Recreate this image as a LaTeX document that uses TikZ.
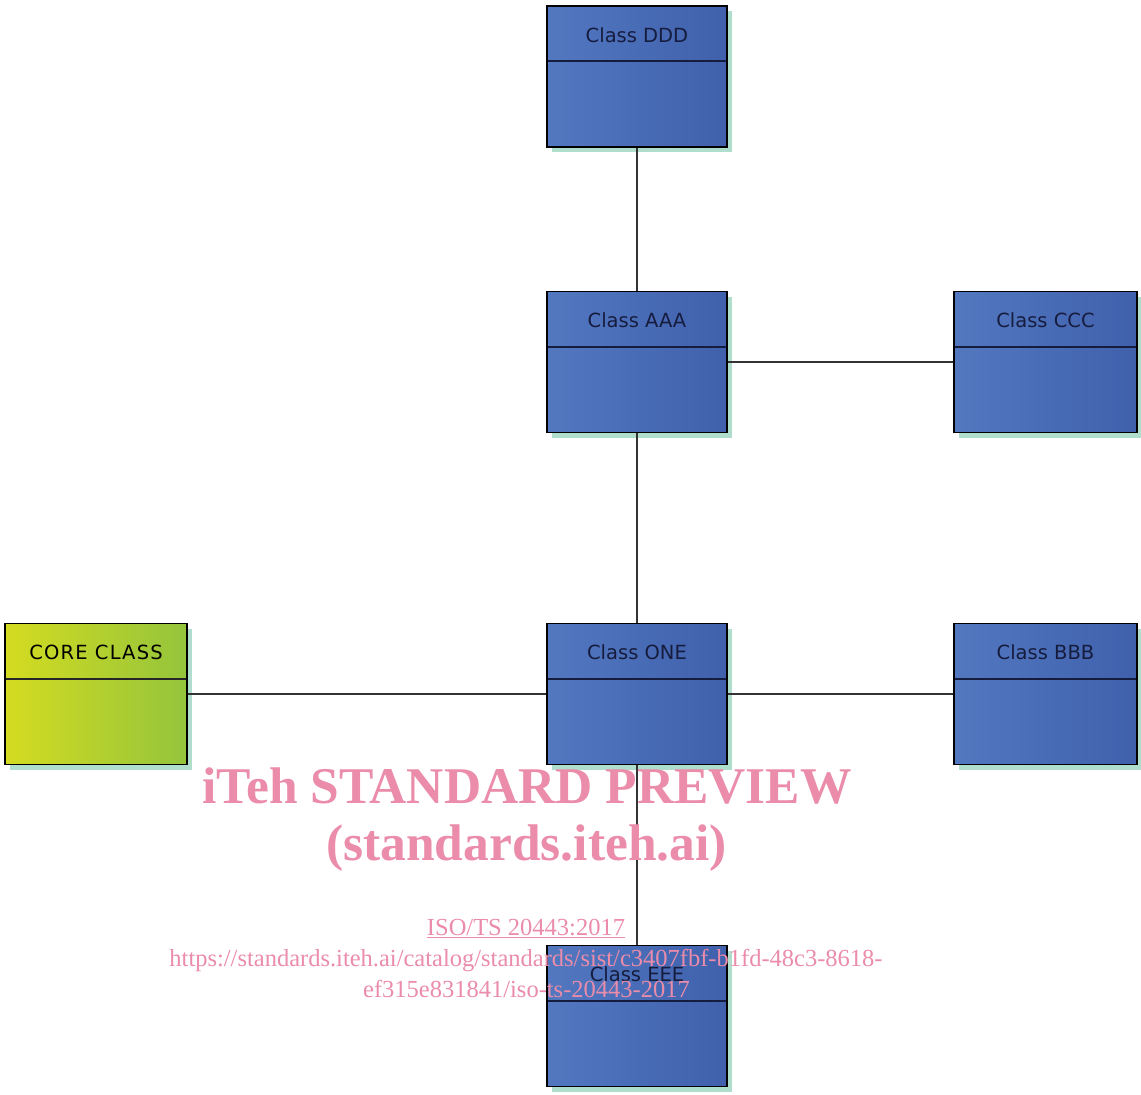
\documentclass[tikz,border=0pt]{standalone}
\usepackage{fontspec}
\newfontfamily\umlfont{DejaVu Sans}
\newfontfamily\umlwidefont[LetterSpace=6]{DejaVu Sans}
\newfontfamily\markfont{Liberation Serif}
\usetikzlibrary{shadows}

\definecolor{classblue}{RGB}{82,120,192}
\definecolor{classbluedark}{RGB}{64,96,172}
\definecolor{coreyellow}{RGB}{212,220,32}
\definecolor{coregreen}{RGB}{148,196,60}
\definecolor{shadowmint}{RGB}{176,222,204}
\definecolor{labelnavy}{RGB}{22,28,62}
\definecolor{markpink}{RGB}{234,140,170}

\begin{document}
\begin{tikzpicture}[x=1pt, y=-1pt,
  umlclass/.style={draw=black, line width=1.8pt, inner sep=0pt,
    minimum width=180pt, minimum height=141pt,
    drop shadow={shadow xshift=5pt, shadow yshift=-5pt, fill=shadowmint, opacity=1},
    path picture={\draw[line width=2pt, color=labelnavy]
      ([yshift=-55pt]path picture bounding box.north west) --
      ([yshift=-55pt]path picture bounding box.north east);},
    label={[anchor=base, yshift=-37pt, text=labelnavy,
      font=\umlfont\fontsize{19.5}{23}\selectfont]north:#1}},
  bluebox/.style={umlclass={#1}, left color=classblue, middle color=classblue,
    right color=classbluedark},
  corebox/.style={draw=black, line width=1.8pt, inner sep=0pt,
    minimum width=182pt, minimum height=141pt,
    drop shadow={shadow xshift=5pt, shadow yshift=-5pt, fill=shadowmint, opacity=1},
    path picture={\draw[line width=2pt, color=black!85]
      ([yshift=-55pt]path picture bounding box.north west) --
      ([yshift=-55pt]path picture bounding box.north east);},
    label={[anchor=base, yshift=-37pt, text=black,
      font=\umlwidefont\fontsize{19.5}{23}\selectfont]north:#1},
    left color=coreyellow, middle color=coreyellow, right color=coregreen},
  assoc/.style={draw=black!80, line width=1.5pt},
  markbig/.style={anchor=base, text=markpink, inner sep=0pt,
    font=\markfont\bfseries\fontsize{51.5}{58}\selectfont},
  marksmall/.style={anchor=base, text=markpink, inner sep=0pt,
    font=\markfont\fontsize{24.5}{30}\selectfont}]
\useasboundingbox (0,0) rectangle (1141,1095);

% classes
\node[bluebox={Class DDD}] (ddd) at (637,76.5) {};
\node[bluebox={Class AAA}] (aaa) at (637,362) {};
\node[bluebox={Class CCC}, minimum width=183pt] (ccc) at (1045.5,362) {};
\node[bluebox={Class ONE}] (one) at (637,694) {};
\node[bluebox={Class BBB}, minimum width=183pt] (bbb) at (1045.5,694) {};
\node[corebox={CORE CLASS}] (core) at (96,694) {};
\node[bluebox={Class EEE}] (eee) at (637,1016) {};

% associations
\draw[assoc] (ddd) -- (aaa);
\draw[assoc] (aaa) -- (ccc);
\draw[assoc] (aaa) -- (one);
\draw[assoc] (core) -- (one);
\draw[assoc] (one) -- (bbb);
\draw[assoc] (one) -- (eee);

% watermark
\node[markbig] (wmtitle) at (527,803) {iTeh STANDARD PREVIEW};
\node[markbig] (wmsite) at (526.5,860) {(standards.iteh.ai)};
\node[marksmall] (wmiso) at (526,935) {\underline{ISO/TS 20443:2017}};
\node[marksmall] (wmurl) at (526,966) {https://standards.iteh.ai/catalog/standards/sist/c3407fbf-b1fd-48c3-8618-};
\node[marksmall] (wmdoc) at (526.5,997) {ef315e831841/iso-ts-20443-2017};
\end{tikzpicture}
\end{document}
